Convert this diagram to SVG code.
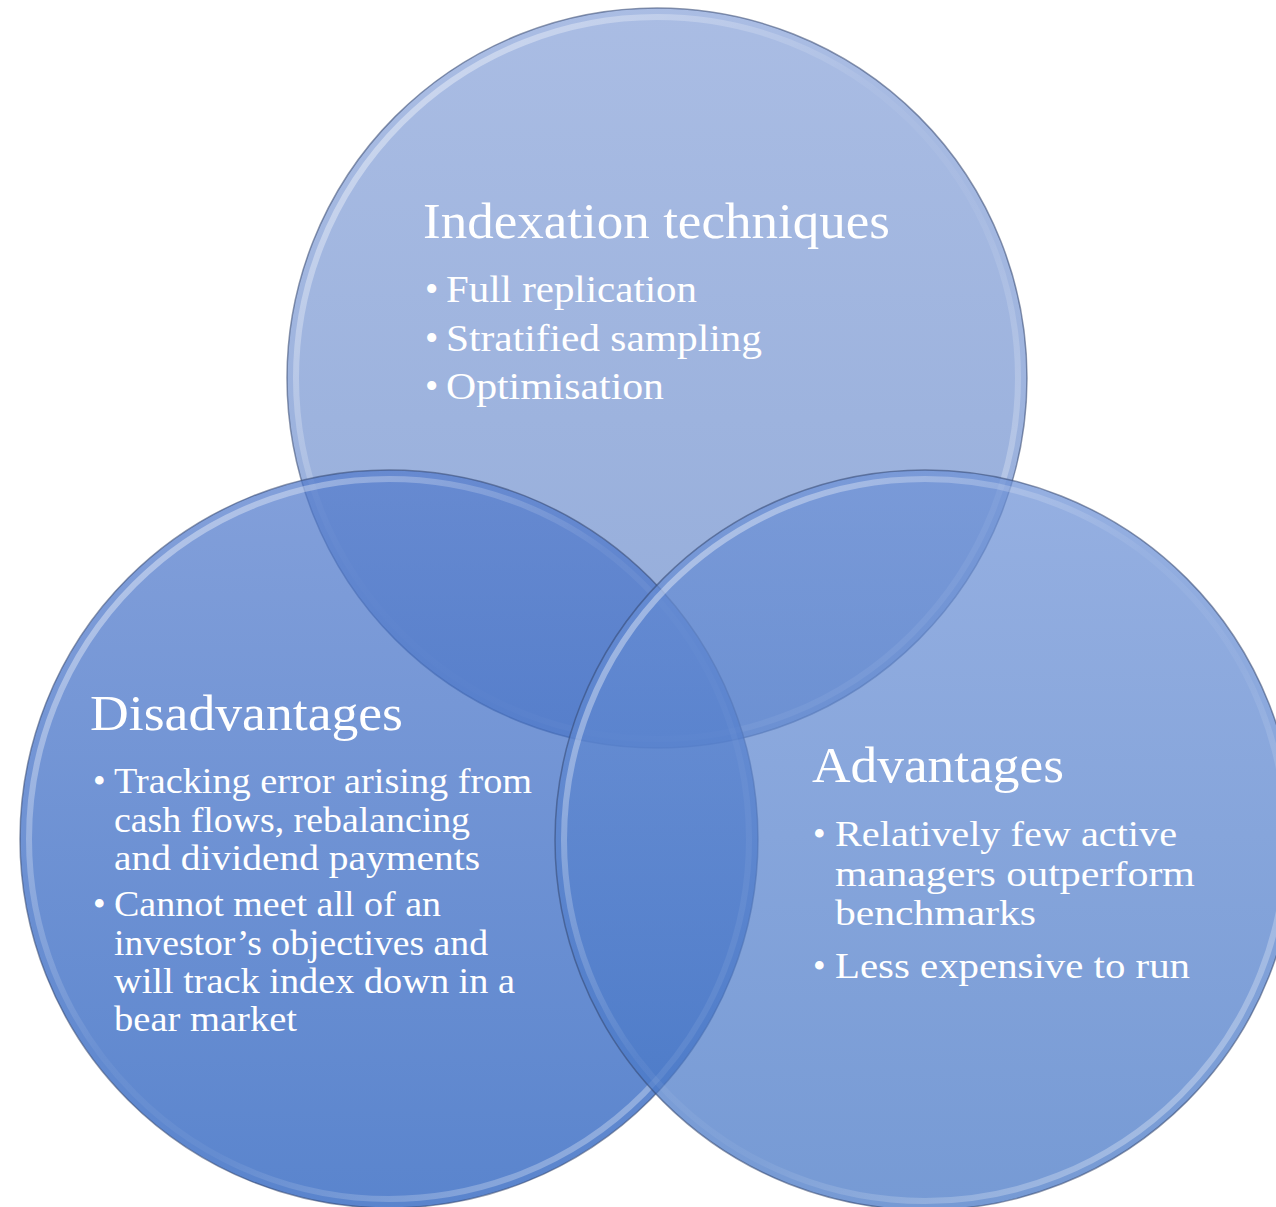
<svg xmlns="http://www.w3.org/2000/svg" width="1276" height="1207" viewBox="0 0 1276 1207">
<style>
.c{fill-opacity:0.72}
.edge{fill:none;stroke:#33466e;stroke-opacity:0.55;stroke-width:1.5}
.rim{fill:none;stroke:url(#rimG);stroke-width:6}
.t{font-family:"Liberation Serif","Times New Roman",serif;fill:#ffffff}
.h{font-size:50px}
.b1{font-size:38px}
.b2{font-size:36px}
</style>
<defs>
<linearGradient id="gTop" x1="0" y1="0" x2="0" y2="1">
<stop offset="0" stop-color="#89a3d9"/><stop offset="1" stop-color="#698bcb"/>
</linearGradient>
<linearGradient id="gLeft" x1="0" y1="0" x2="0" y2="1">
<stop offset="0" stop-color="#537bcc"/><stop offset="1" stop-color="#1a55ba"/>
</linearGradient>
<linearGradient id="gRight" x1="0" y1="0" x2="0" y2="1">
<stop offset="0" stop-color="#6d91d6"/><stop offset="1" stop-color="#4173c4"/>
</linearGradient>
<linearGradient id="rimG" x1="0" y1="0" x2="1" y2="1">
<stop offset="0" stop-color="#ffffff" stop-opacity="0.55"/>
<stop offset="0.45" stop-color="#ffffff" stop-opacity="0.05"/>
<stop offset="0.6" stop-color="#ffffff" stop-opacity="0.05"/>
<stop offset="1" stop-color="#ffffff" stop-opacity="0.45"/>
</linearGradient>
</defs>
<g id="connectors"></g>
<g id="node-indexation">
<circle class="c" cx="657" cy="378" r="370" fill="url(#gTop)"/>
<circle class="rim" cx="657" cy="378" r="361"/>
<circle class="edge" cx="657" cy="378" r="370"/>
<text class="t h" x="423" y="238" textLength="467" lengthAdjust="spacingAndGlyphs">Indexation techniques</text>
<text class="t b1" x="425" y="302">•</text>
<text class="t b1" x="446" y="302" textLength="251" lengthAdjust="spacingAndGlyphs">Full replication</text>
<text class="t b1" x="425" y="351">•</text>
<text class="t b1" x="446" y="351" textLength="316" lengthAdjust="spacingAndGlyphs">Stratified sampling</text>
<text class="t b1" x="425" y="399">•</text>
<text class="t b1" x="446" y="399" textLength="218" lengthAdjust="spacingAndGlyphs">Optimisation</text>
</g>
<g id="node-disadvantages">
<circle class="c" cx="389" cy="839" r="369" fill="url(#gLeft)"/>
<circle class="rim" cx="389" cy="839" r="360"/>
<circle class="edge" cx="389" cy="839" r="369"/>
<text class="t h" x="90" y="730" textLength="313" lengthAdjust="spacingAndGlyphs">Disadvantages</text>
<text class="t b2" x="93" y="793">•</text>
<text class="t b2" x="114" y="793" textLength="418" lengthAdjust="spacingAndGlyphs">Tracking error arising from</text>
<text class="t b2" x="114" y="832" textLength="356" lengthAdjust="spacingAndGlyphs">cash flows, rebalancing</text>
<text class="t b2" x="114" y="870" textLength="366" lengthAdjust="spacingAndGlyphs">and dividend payments</text>
<text class="t b2" x="93" y="916">•</text>
<text class="t b2" x="114" y="916" textLength="327" lengthAdjust="spacingAndGlyphs">Cannot meet all of an</text>
<text class="t b2" x="114" y="955" textLength="374" lengthAdjust="spacingAndGlyphs">investor’s objectives and</text>
<text class="t b2" x="114" y="993" textLength="401" lengthAdjust="spacingAndGlyphs">will track index down in a</text>
<text class="t b2" x="114" y="1031" textLength="183" lengthAdjust="spacingAndGlyphs">bear market</text>
</g>
<g id="node-advantages">
<circle class="c" cx="925" cy="840" r="370" fill="url(#gRight)"/>
<circle class="rim" cx="925" cy="840" r="361"/>
<circle class="edge" cx="925" cy="840" r="370"/>
<text class="t h" x="812" y="782" textLength="252" lengthAdjust="spacingAndGlyphs">Advantages</text>
<text class="t b2" x="813" y="846">•</text>
<text class="t b2" x="835" y="846" textLength="342" lengthAdjust="spacingAndGlyphs">Relatively few active</text>
<text class="t b2" x="835" y="886" textLength="360" lengthAdjust="spacingAndGlyphs">managers outperform</text>
<text class="t b2" x="835" y="925" textLength="201" lengthAdjust="spacingAndGlyphs">benchmarks</text>
<text class="t b2" x="813" y="978">•</text>
<text class="t b2" x="835" y="978" textLength="355" lengthAdjust="spacingAndGlyphs">Less expensive to run</text>
</g>
</svg>
